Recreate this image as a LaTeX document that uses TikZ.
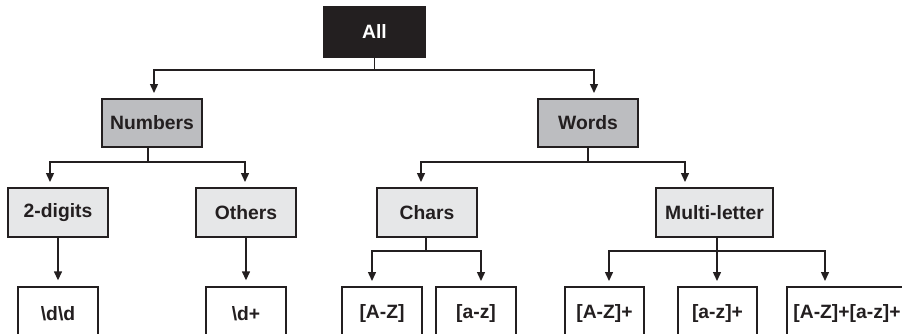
\documentclass[tikz,border=0pt]{standalone}
\usepackage{fontspec}
\setmainfont{Liberation Sans}
\usetikzlibrary{arrows.meta}
\definecolor{ink}{HTML}{231F20}
\definecolor{midgray}{HTML}{BCBDC0}
\definecolor{lightgray}{HTML}{E6E7E8}
\tikzset{
  box/.style={draw=ink, line width=1.4pt, inner sep=0pt, font=\fontsize{19.3}{21}\selectfont\bfseries, text=ink},
  topbox/.style={box, fill=ink, text=white, minimum width=101pt, minimum height=50pt},
  midbox/.style={box, fill=midgray, minimum height=48pt},
  lowbox/.style={box, fill=lightgray, minimum height=49pt},
  leafbox/.style={box, fill=white, minimum height=54pt},
  conn/.style={draw=ink, line width=1.4pt},
  arr/.style={conn, -{Triangle[length=9pt,width=8pt]}, shorten >=6pt},
}
\begin{document}
\begin{tikzpicture}[x=1pt,y=1pt]
\useasboundingbox (0,0) rectangle (902,-333);
\clip (0,0) rectangle (902,-333);
% nodes
\node[topbox] (all) at (374.5,-32) {All};
\node[midbox, minimum width=100pt] (num) at (152,-123) {Numbers};
\node[midbox, minimum width=100pt] (words) at (588,-123) {Words};
\node[lowbox, minimum width=100pt] (dig) at (58,-212.5) {2-digits};
\node[lowbox, minimum width=100pt] (oth) at (246,-212.5) {Others};
\node[lowbox, minimum width=100pt] (chars) at (427,-212.5) {Chars};
\node[lowbox, minimum width=117pt] (multi) at (714.5,-212.5) {Multi-letter};
\node[leafbox, minimum width=80pt] (dd) at (58,-314) {\textbackslash d\textbackslash d};
\node[leafbox, minimum width=80pt] (dp) at (246,-314) {\textbackslash d+};
\node[leafbox, minimum width=80pt] (AZ) at (382,-314) {[A-Z]};
\node[leafbox, minimum width=80pt] (az) at (476,-314) {[a-z]};
\node[leafbox, minimum width=79pt] (AZp) at (604.5,-314) {[A-Z]+};
\node[leafbox, minimum width=79pt] (azp) at (717.5,-314) {[a-z]+};
\node[leafbox, minimum width=120pt] (AZaz) at (847,-314) {[A-Z]+[a-z]+};
% junction coordinates
\coordinate (jall) at (374.5,-70);
\coordinate (tnum) at (154,-99);
\coordinate (twords) at (594,-99);
\coordinate (snum) at (148,-147);
\coordinate (jnum) at (148,-162);
\coordinate (tdig) at (50,-188);
\coordinate (toth) at (245,-188);
\coordinate (jwords) at (588,-162);
\coordinate (tchars) at (421,-188);
\coordinate (tmulti) at (685,-188);
\coordinate (jchars) at (426,-251);
\coordinate (tAZ) at (372,-287);
\coordinate (taz) at (481,-287);
\coordinate (smulti) at (717,-237);
\coordinate (jmulti) at (717,-251);
\coordinate (tAZp) at (609,-287);
\coordinate (tazp) at (717,-287);
\coordinate (tAZaz) at (825,-287);
% connectors
\draw[conn] (all.south) -- (jall);
\draw[arr] (jall) -| (tnum);
\draw[arr] (jall) -| (twords);
\draw[conn] (snum) -- (jnum);
\draw[arr] (jnum) -| (tdig);
\draw[arr] (jnum) -| (toth);
\draw[conn] (words.south) -- (jwords);
\draw[arr] (jwords) -| (tchars);
\draw[arr] (jwords) -| (tmulti);
\draw[arr] (dig.south) -- (dd.north);
\draw[arr] (oth.south) -- (dp.north);
\draw[conn] (chars.south -| jchars) -- (jchars);
\draw[arr] (jchars) -| (tAZ);
\draw[arr] (jchars) -| (taz);
\draw[conn] (smulti) -- (jmulti);
\draw[arr] (jmulti) -| (tAZp);
\draw[arr] (jmulti) -- (tazp);
\draw[arr] (jmulti) -| (tAZaz);
\end{tikzpicture}
\end{document}
